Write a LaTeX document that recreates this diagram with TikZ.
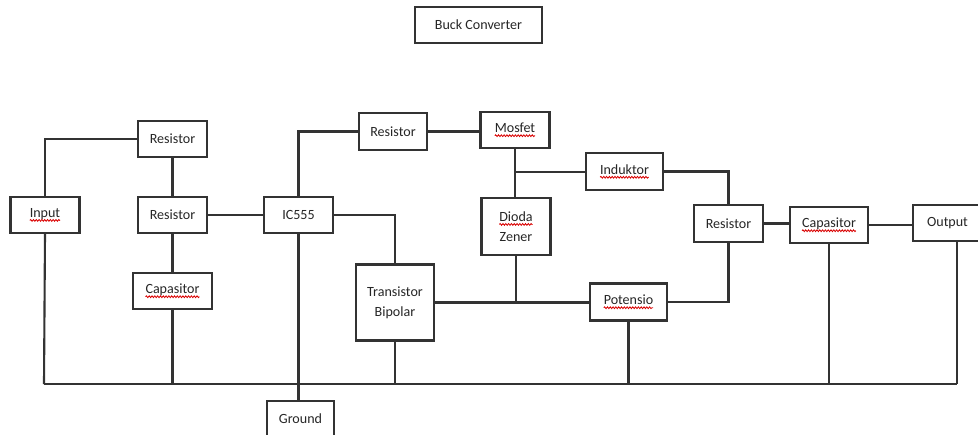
\documentclass[tikz,border=0pt]{standalone}
\usepackage{fontspec}
\setmainfont{Carlito}
\usetikzlibrary{positioning,decorations.pathmorphing}

% red spell-check squiggle under a word
\newcommand\spellmark[1]{\tikz[baseline=(sw@w.base),x=1cm,y=1cm]{%
  \node[draw=none,inner sep=0pt,outer sep=0pt,minimum width=0pt,
        minimum height=0pt] (sw@w) {#1};
  \draw[red!85!black,line width=.7pt,decorate,
        decoration={snake,amplitude=.75pt,segment length=2.4pt}]
    ([yshift=-2.6pt]sw@w.base west) -- ([yshift=-2.6pt]sw@w.base east);}}

\begin{document}
\begin{tikzpicture}[
   x=.03cm,y=-.03cm,
   every node/.style={font=\fontsize{12}{17}\selectfont,text=black!85},
   block/.style={draw=black!80,line width=1.8pt,minimum width=#1*.03cm,
                 minimum height=36*.03cm,inner sep=1pt,align=center},
   block/.default=69,
   tallblock/.style={block=#1,minimum height=57*.03cm},
   wire/.style={draw=black!80,line width=1.8pt}
 ]
  \useasboundingbox (0,0) rectangle (978,434);
  \clip (0,0) rectangle (978,434);

  % Title
  \node[block=127] (title) at (478.5,25) {Buck Converter};

  % Input side and the timer
  \node[block] (input) at (45,215) {\spellmark{Input}};
  \node[block] (resa) at (172.5,139) {Resistor};
  \node[block] (resb) at (172.5,215) {Resistor};
  \node[block=79] (capa) at (172.5,291) {\spellmark{Capasitor}};
  \node[block] (ic) at (298.5,215) {IC555};
  \node[block=67] (ground) at (300.5,419) {Ground};

  % Switching stage
  \node[block=68,minimum height=37*.03cm] (resc) at (393,131.5) {Resistor};
  \node[block] (mosfet) at (515,130) {\spellmark{Mosfet}};
  \node[tallblock=69] (dioda) at (516,226.5) {\spellmark{Dioda}\\Zener};
  \node[block=78,minimum height=76*.03cm] (trans) at (395,302.5) {Transistor\\Bipolar};
  \node[block=77,minimum height=37*.03cm] (induktor) at (624.5,171.5) {\spellmark{Induktor}};
  \node[block=77,minimum height=37*.03cm] (pot) at (628.5,302) {\spellmark{Potensio}};

  % Output side
  \node[block,minimum height=37*.03cm] (resd) at (728.5,223.5) {Resistor};
  \node[block=78] (capb) at (829,225) {\spellmark{Capasitor}};
  \node[block] (output) at (947.5,223) {Output};

  % Ground rail
  \coordinate (busl) at (44,384);
  \coordinate (busr) at (957,384);
  \coordinate (sw) at (515,172);

  % Connections
  \path[wire] (input.north) |- (resa.west);
  \path[wire] (resa.south) -- (resb.north);
  \path[wire] (resb.south) -- (capa.north);
  \path[wire] (resb.east) -- (ic.west);
  \path[wire] (ic.north) |- (resc.west);
  \path[wire] (resc.east) -- (resc.east -| mosfet.west);
  \path[wire] (mosfet.south) -- (mosfet.south |- dioda.north);
  \path[wire] (sw) -- (sw -| induktor.west);
  \path[wire] (induktor.east) -| (resd.north);
  \path[wire] (ic.east) -| (trans.north);
  \path[wire] (trans.east) -- (trans.east -| pot.west);
  \path[wire] (dioda.south) -- (dioda.south |- trans.east);
  \path[wire] (resd.south) |- (pot.east);
  \path[wire] (resd.east) -- (resd.east -| capb.west);
  \path[wire] (capb.east) -- (capb.east -| output.west);

  % Everything down to the ground rail
  \path[wire] (busl) -- (busr);
  \path[wire] (input.south) -- (busl);
  \path[wire] (capa.south) -- (capa.south |- busl);
  \path[wire] (ic.south) -- (ic.south |- ground.north);
  \path[wire] (trans.south) -- (trans.south |- busl);
  \path[wire] (pot.south) -- (pot.south |- busl);
  \path[wire] (capb.south) -- (capb.south |- busl);
  \path[wire] (busr) -- (busr |- output.south);
\end{tikzpicture}
\end{document}
